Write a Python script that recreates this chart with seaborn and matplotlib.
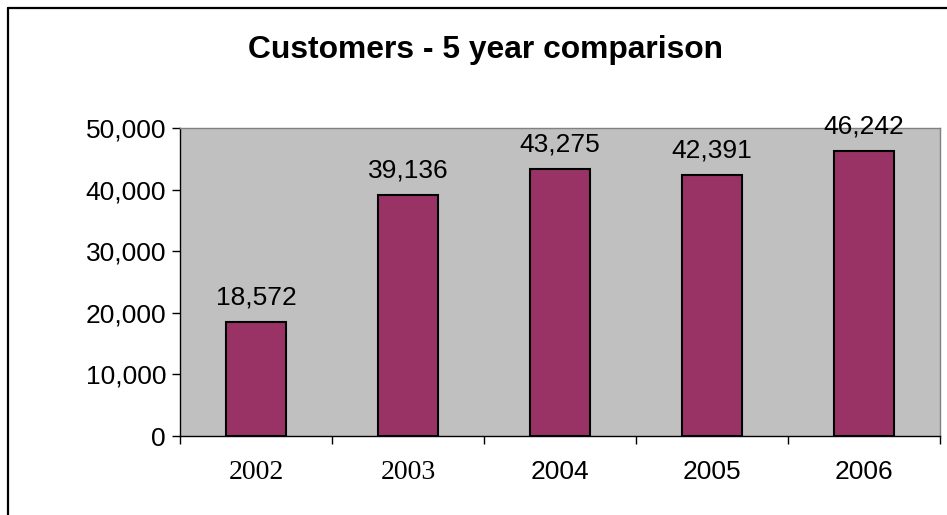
import matplotlib
matplotlib.use("Agg")
import matplotlib.pyplot as plt
from matplotlib.lines import Line2D
from matplotlib.ticker import FuncFormatter, FixedLocator
import seaborn as sns
import pandas as pd

years = ["2002", "2003", "2004", "2005", "2006"]
customers = [18572, 39136, 43275, 42391, 46242]
y_ticks = [0, 10000, 20000, 30000, 40000, 50000]
serif_years = {"2002", "2003"}

title = "Customers - 5 year comparison"
bar_color = "#993366"
plot_bg = "#C0C0C0"

sns.set_theme(style="white")
plt.rcParams["font.family"] = ["Liberation Sans", "DejaVu Sans"]
plt.rcParams["text.color"] = "black"
plt.rcParams["xtick.color"] = "black"
plt.rcParams["ytick.color"] = "black"
plt.rcParams["axes.labelcolor"] = "black"

df = pd.DataFrame({"year": years, "customers": customers})

fig = plt.figure(figsize=(9.47, 5.15), dpi=100)
W, H = 947, 515
ax = fig.add_axes([180 / W, 1 - 436 / H, (940 - 180) / W, (436 - 128) / H])
ax.set_facecolor(plot_bg)

sns.barplot(data=df, x="year", y="customers", color=bar_color, saturation=1,
            width=0.4, edgecolor="black", linewidth=1.5, ax=ax)

ax.set_xlim(-0.5, len(years) - 0.5)
ax.set_ylim(y_ticks[0], y_ticks[-1])
ax.set_xlabel("")
ax.set_ylabel("")

# value labels above bars
for cont in ax.containers:
    ax.bar_label(cont, labels=[f"{v:,}" for v in customers], padding=9,
                 fontsize=19, color="black")

# y axis
ax.yaxis.set_major_locator(FixedLocator(y_ticks))
ax.yaxis.set_major_formatter(FuncFormatter(lambda v, p: f"{int(v):,}"))
ax.tick_params(axis="y", which="major", direction="out", length=6, width=1,
               color="black", labelcolor="black", labelsize=19, pad=4, left=True)

# x axis: tick marks at category boundaries, labels at centres
ax.xaxis.set_minor_locator(FixedLocator([i - 0.5 for i in range(len(years) + 1)]))
ax.tick_params(axis="x", which="minor", direction="out", length=6, width=1,
               color="black", bottom=True)
ax.tick_params(axis="x", which="major", length=0, labelsize=19,
               labelcolor="black", pad=17)
for lbl in ax.get_xticklabels():
    if lbl.get_text() in serif_years:
        lbl.set_fontfamily(["Liberation Serif", "DejaVu Serif"])
        lbl.set_fontsize(20)

for side in ("left", "bottom"):
    ax.spines[side].set_color("black")
    ax.spines[side].set_linewidth(1)
for side in ("top", "right"):
    ax.spines[side].set_color("#808080")
    ax.spines[side].set_linewidth(1)

fig.text((248 + 722) / 2 / W, 1 - 50 / H, title, ha="center", va="center",
         fontsize=22.9, fontweight="bold", color="black")

# chart frame on the left and top edges
fig.add_artist(Line2D([7.5 / W, 7.5 / W], [0, 1 - 7.5 / H], color="black",
                      linewidth=1.6, transform=fig.transFigure))
fig.add_artist(Line2D([7.5 / W, 1], [1 - 7.5 / H, 1 - 7.5 / H], color="black",
                      linewidth=1.6, transform=fig.transFigure))

fig.savefig("out.png", dpi=100, facecolor="white")
